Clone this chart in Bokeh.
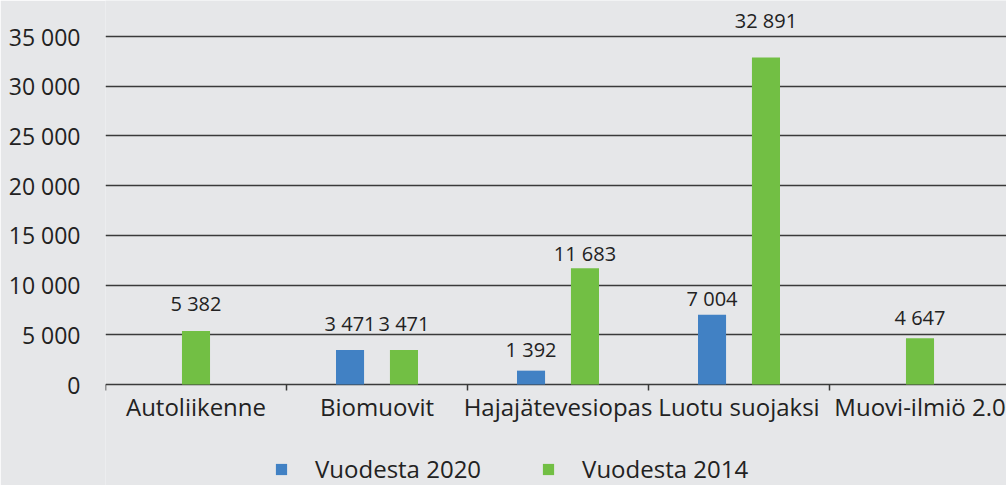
from bokeh.plotting import figure
from bokeh.models import Range1d, FixedTicker, Legend, LegendItem, ColumnDataSource
from bokeh.core.properties import value
from bokeh.embed import file_html
from bokeh.resources import INLINE

categories = ["Autoliikenne", "Biomuovit", "Hajajätevesiopas", "Luotu suojaksi", "Muovi-ilmiö 2.0"]
series_names = ["Vuodesta 2020", "Vuodesta 2014"]
v2020 = [None, 3471, 1392, 7004, None]
v2014 = [5382, 3471, 11683, 32891, 4647]
y_ticks = [0, 5000, 10000, 15000, 20000, 25000, 30000, 35000]
y_tick_labels = ["0", "5 000", "10 000", "15 000", "20 000", "25 000", "30 000", "35 000"]

colors = ["#4181c4", "#72bf44"]
bg = "#e6e7e9"
ink = "#222222"
grid = "#3a3a3a"
FONT = "Open Sans"

W, H = 1006, 485
LEFT = 105          # frame left in px
ZERO_Y = 384        # pixel row of value 0
TOP_Y = 36          # pixel row of 35000
CAT_PX = 181        # category width in px
per_px = 35000 / (ZERO_Y - TOP_Y)

BAR_W = 0.155
STEP = 0.298
# layout: vertical distance (px) of each value label's centre above its bar top
label_lift_px = [[None, 26, 21, 16, None], [27, 26, 15, 37, 21]]

xs = {0: [], 1: []}
ys = {0: [], 1: []}
lab_x, lab_y, lab_t, lab_off = [], [], [], []
for i, cat in enumerate(categories):
    present = [(s, vals[i]) for s, vals in enumerate([v2020, v2014]) if vals[i] is not None]
    n = len(present)
    for k, (s, v) in enumerate(present):
        x = i + 0.5 + (k - (n - 1) / 2) * STEP
        xs[s].append(x)
        ys[s].append(v)
        lab_x.append(x)
        lab_y.append(v)
        lab_t.append(f"{v:,}".replace(",", " "))
        lab_off.append(-label_lift_px[s][i])

p = figure(width=W, height=H, output_backend="svg", toolbar_location=None,
           x_range=Range1d(0, (W - LEFT) / CAT_PX),
           y_range=Range1d(-(H - ZERO_Y) * per_px, 35000 + TOP_Y * per_px),
           min_border_left=LEFT, min_border_right=0, min_border_top=0, min_border_bottom=0)
p.background_fill_color = bg
p.border_fill_color = bg
p.outline_line_color = None
p.xaxis.visible = False

renderers = []
for s in (0, 1):
    src = ColumnDataSource(dict(x=xs[s], top=ys[s]))
    r = p.vbar(x="x", top="top", width=BAR_W, bottom=0, source=src,
               fill_color=colors[s], line_color=None)
    renderers.append(r)

lab_src = ColumnDataSource(dict(x=lab_x, y=lab_y, t=lab_t, off=lab_off))
p.text(x="x", y="y", text="t", y_offset="off", source=lab_src, text_align="center",
       text_baseline="middle", text_font_size="20px", text_color=ink, text_font=value(FONT))

# y axis
p.yaxis.ticker = FixedTicker(ticks=y_ticks)
p.yaxis.major_label_overrides = {t: l for t, l in zip(y_ticks, y_tick_labels)}
p.yaxis.axis_line_color = None
p.yaxis.major_tick_line_color = None
p.yaxis.minor_tick_line_color = None
p.yaxis.major_label_standoff = 19
p.yaxis.major_label_text_font_size = "23px"
p.yaxis.major_label_text_font = FONT
p.yaxis.major_label_text_color = ink

p.ygrid.ticker = FixedTicker(ticks=y_ticks)
p.ygrid.grid_line_color = grid
p.ygrid.grid_line_width = 1.5
p.xgrid.grid_line_color = None

# category axis drawn at value 0: boundary ticks and labels
bounds = list(range(len(categories) + 1))
p.segment(x0=bounds, x1=bounds, y0=[0] * len(bounds), y1=[-6 * per_px] * len(bounds),
          line_color=grid, line_width=1.5)
centers = [i + 0.5 for i in range(len(categories))]
p.text(x=centers, y=[0] * len(centers), text=categories, text_align="center",
       text_baseline="middle", y_offset=22, text_font_size="24px",
       text_color=ink, text_font=value(FONT))

legend = Legend(items=[LegendItem(label=series_names[s], renderers=[renderers[s]]) for s in (0, 1)],
                location=(169, 0), orientation="horizontal",
                glyph_width=14, glyph_height=14, label_standoff=27, spacing=60,
                padding=0, margin=0, border_line_color=None, background_fill_alpha=0,
                label_text_font_size="24px", label_text_font=FONT, label_text_color=ink)
p.add_layout(legend)

open("out.html", "w").write(file_html(p, INLINE))
